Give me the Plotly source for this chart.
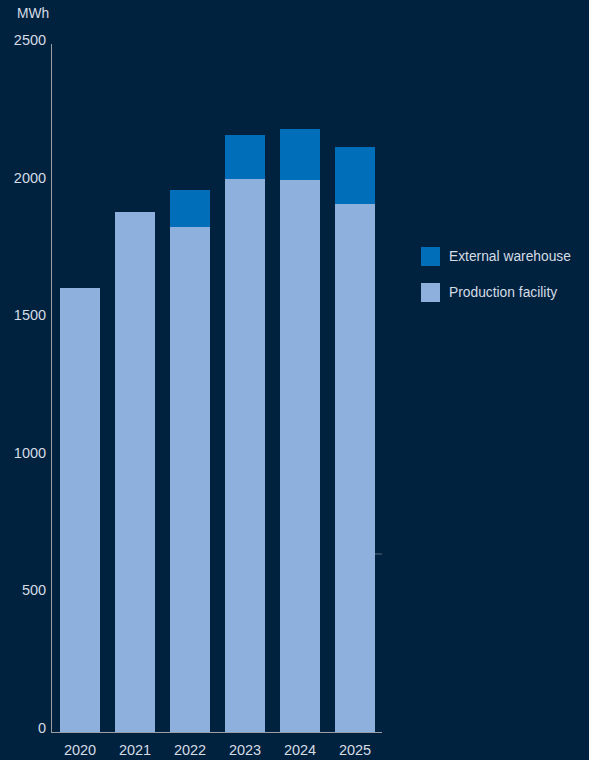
import plotly.graph_objects as go

years = ["2020", "2021", "2022", "2023", "2024", "2025"]
production = [1615, 1890, 1835, 2010, 2005, 1920]
warehouse = [0, 0, 135, 160, 185, 205]
series_names = ["Production facility", "External warehouse"]
y_ticks = [0, 500, 1000, 1500, 2000, 2500]

BG = "#00223F"
LIGHT = "#8DB0DC"
DARK = "#006EB9"
TEXT = "#D5DCE4"
AXIS = "#9A9EA3"
FONT = "Liberation Sans"

fig = go.Figure()
fig.add_trace(go.Bar(x=years, y=production, name=series_names[0],
                     marker=dict(color=LIGHT, line=dict(width=0)), width=0.727,
                     showlegend=False))
fig.add_trace(go.Bar(x=years, y=warehouse, name=series_names[1],
                     marker=dict(color=DARK, line=dict(width=0)), width=0.727,
                     showlegend=False))

# legend drawn as shapes + text
legend_items = [(series_names[1], DARK, 247), (series_names[0], LIGHT, 283)]
H = 760.0
T, B = 44, 28
PH = H - T - B
for name, col, ytop in legend_items:
    fig.add_shape(type="rect", xref="paper", yref="paper",
                  x0=(421 - 52) / 330, x1=(440 - 52) / 330,
                  y0=(H - B - (ytop + 19)) / PH, y1=(H - B - ytop) / PH,
                  fillcolor=col, line=dict(width=0))
    fig.add_annotation(xref="paper", yref="paper",
                       x=(447 - 52) / 330, y=(H - B - (ytop + 9.5)) / PH,
                       text=name, showarrow=False, xanchor="left", yanchor="middle",
                       font=dict(family=FONT, size=13.8, color=TEXT))

fig.add_annotation(xref="paper", yref="paper", x=(15 - 52) / 330, y=(H - B - 13) / PH,
                   text="MWh", showarrow=False, xanchor="left", yanchor="middle",
                   font=dict(family=FONT, size=13.8, color=TEXT))

# small faint tick mark at right edge of the plot
fig.add_shape(type="line", xref="paper", yref="paper",
              x0=(375 - 52) / 330, x1=1.0,
              y0=(H - B - 554) / PH, y1=(H - B - 554) / PH,
              line=dict(color="#5C6B7C", width=1))

fig.update_layout(
    barmode="stack",
    width=589, height=760,
    margin=dict(l=52, r=207, t=T, b=B, pad=0, autoexpand=False),
    paper_bgcolor=BG, plot_bgcolor=BG,
    font=dict(family=FONT, size=14, color=TEXT),
    bargap=0.27,
)
fig.update_xaxes(type="category", range=[-0.51, 5.49], showgrid=False, zeroline=False,
                 showline=True, linecolor=AXIS, linewidth=1, ticks="", automargin=False,
                 tickfont=dict(family=FONT, size=14.5, color=TEXT), ticklabelstandoff=5)
fig.update_yaxes(range=[0, 2500], tickvals=y_ticks, showgrid=False, zeroline=False,
                 showline=True, linecolor=AXIS, linewidth=1, ticks="", automargin=False,
                 tickfont=dict(family=FONT, size=14.5, color=TEXT), ticklabelshift=-4,
                 ticklabelstandoff=2)

fig.write_html("out.html")
